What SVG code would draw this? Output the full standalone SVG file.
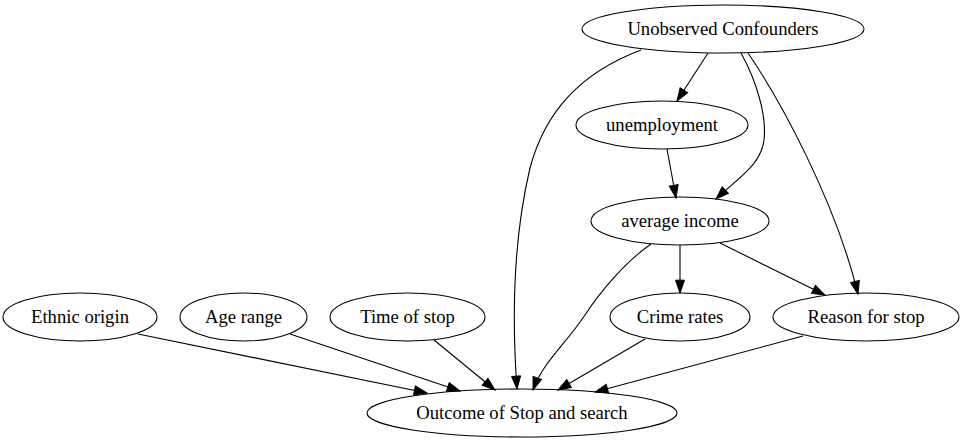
<svg xmlns="http://www.w3.org/2000/svg" width="964" height="443" viewBox="0 0 964 443">
<style>
.node ellipse{fill:none;stroke:#000;stroke-width:1.1}
.node text{font-family:"Liberation Serif","Times New Roman",serif;font-size:18.67px;fill:#000;text-anchor:middle}
.edges path{fill:none;stroke:#000;stroke-width:1.1;marker-end:url(#arr)}
</style>
<defs>
<marker id="arr" markerUnits="userSpaceOnUse" markerWidth="15" markerHeight="11" viewBox="-1 -1 15 11.4" refX="13.3" refY="4.7" orient="auto">
<path d="M0,0 L13.3,4.7 L0,9.4 z" fill="#000" stroke="#000" stroke-width="1"/>
</marker>
</defs>
<rect width="964" height="443" fill="#fff"/>
<g class="edges">
<path d="M708,53 L677,101"/>
<path d="M641,50 C580,73 545,112 530,168 C513,240 512,320 517,389"/>
<path d="M741,53 C756,80 767,115 764,140 C761,165 738,178 716,199"/>
<path d="M748,53 C780,100 835,200 858,294"/>
<path d="M667,149 L676,198"/>
<path d="M680,245 L680,293"/>
<path d="M720,243 L825,295"/>
<path d="M651,244 C625,262 600,292 585,315 C565,345 543,362 533,390"/>
<path d="M138,334 L427,393"/>
<path d="M290,334 L460,391"/>
<path d="M434,340 L495,390"/>
<path d="M645,339 L558,390"/>
<path d="M803,336 L595,392"/>
</g>
<g id="unobserved" class="node"><ellipse cx="723" cy="29" rx="141" ry="24"/><text x="723" y="35">Unobserved Confounders</text></g>
<g id="unemployment" class="node"><ellipse cx="662" cy="125" rx="86" ry="24"/><text x="662" y="131">unemployment</text></g>
<g id="avgincome" class="node"><ellipse cx="680" cy="221" rx="89" ry="24"/><text x="680" y="227">average income</text></g>
<g id="ethnic" class="node"><ellipse cx="80" cy="317" rx="77" ry="24"/><text x="80" y="323">Ethnic origin</text></g>
<g id="age" class="node"><ellipse cx="243.5" cy="317" rx="63.5" ry="24"/><text x="243.5" y="323">Age range</text></g>
<g id="time" class="node"><ellipse cx="407.5" cy="317" rx="77.5" ry="24"/><text x="407.5" y="323">Time of stop</text></g>
<g id="crime" class="node"><ellipse cx="680" cy="317" rx="70" ry="24"/><text x="680" y="323">Crime rates</text></g>
<g id="reason" class="node"><ellipse cx="866" cy="317" rx="93" ry="24"/><text x="866" y="323">Reason for stop</text></g>
<g id="outcome" class="node"><ellipse cx="522" cy="413" rx="155" ry="24"/><text x="522" y="419">Outcome of Stop and search</text></g>
</svg>
